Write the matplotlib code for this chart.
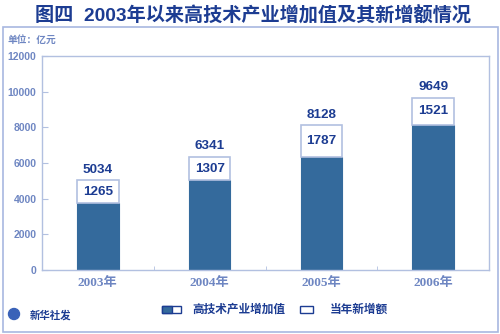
import matplotlib.pyplot as plt
from matplotlib.patches import Rectangle, Ellipse
import numpy as np

years = ["2003年", "2004年", "2005年", "2006年"]
totals = [5034, 6341, 8128, 9649]
increments = [1265, 1307, 1787, 1521]
yticks = [0, 2000, 4000, 6000, 8000, 10000, 12000]

dark = "#1c3c92"
light = "#6e86c2"
edge = "#b2c0e0"
barcol = "#346a9c"

plt.rcParams["font.family"] = ["Noto Sans CJK SC", "DejaVu Sans"]
num_font = ["Liberation Sans", "Noto Sans CJK SC"]

fig = plt.figure(figsize=(5, 3.34), dpi=100)

# outer frame
fig.patches.append(Rectangle((0.006, 0.006), 0.99, 0.913, transform=fig.transFigure,
                             fill=False, edgecolor="#a8b8e0", linewidth=1.2))

fig.text(0.506, 0.955, "图四  2003年以来高技术产业增加值及其新增额情况", ha="center", va="center",
         fontsize=13.8, fontweight="bold", color=dark, family=num_font)
fig.text(0.016, 0.88, "单位：亿元", ha="left", va="center", fontsize=7,
         fontweight="bold", color=light)

ax = fig.add_axes([0.084, 0.1916, 0.894, 0.6407])
x = np.arange(len(years))
base = [t - i for t, i in zip(totals, increments)]
w = 0.37
ax.bar(x, base, w, color=barcol, edgecolor=barcol, linewidth=0.8)
ax.bar(x, increments, w, bottom=base, color="white", edgecolor=edge, linewidth=1.2)

for xi, t, b, inc in zip(x, totals, base, increments):
    ax.text(xi, t + 250, str(t), ha="center", va="bottom", fontsize=9.7,
            fontweight="bold", color=dark, family=num_font)
    ax.text(xi, b + inc / 2, str(inc), ha="center", va="center", fontsize=9.7,
            fontweight="bold", color=dark, family=num_font)

ax.set_xlim(-0.5, 3.5)
ax.set_ylim(0, 12000)
ax.set_yticks(yticks)
ax.set_yticklabels([str(v) for v in yticks], fontsize=7.5, fontweight="bold", color=light,
                   family=num_font)
ax.tick_params(axis="y", direction="in", length=4, color=edge, pad=4)
ax.set_xticks(x)
ax.set_xticklabels(years, fontsize=9.5, color=light, family=["Liberation Serif", "Noto Sans CJK SC"],
                   fontweight="bold")
ax.tick_params(axis="x", length=0, pad=5)
ax.set_xticks([0.5, 1.5, 2.5], minor=True)
ax.tick_params(axis="x", which="minor", direction="in", length=3, color=edge)
for s in ax.spines.values():
    s.set_color(edge)
    s.set_linewidth(1.0)

# legend
ly = 1 - 309 / 334
hh = 7 / 334
fig.patches.append(Rectangle((162 / 500, ly - hh / 2), 19 / 500, hh, transform=fig.transFigure,
                             facecolor="white", edgecolor=dark, linewidth=1.0))
fig.patches.append(Rectangle((162 / 500, ly - hh / 2), 10 / 500, hh, transform=fig.transFigure,
                             facecolor=barcol, edgecolor=dark, linewidth=1.0))
fig.text(192 / 500, ly, "高技术产业增加值", ha="left", va="center", fontsize=8.4,
         fontweight="bold", color=dark)
fig.patches.append(Rectangle((300 / 500, ly - hh / 2), 13 / 500, hh, transform=fig.transFigure,
                             facecolor="white", edgecolor=dark, linewidth=1.0))
fig.text(330 / 500, ly, "当年新增额", ha="left", va="center", fontsize=8.4,
         fontweight="bold", color=dark)

# source
fig.patches.append(Ellipse((14 / 500, 1 - 314 / 334), 11 / 500, 11 / 334, transform=fig.transFigure,
                           facecolor="#3a62b8", edgecolor="#3a62b8"))
fig.text(30 / 500, 1 - 315 / 334, "新华社发", ha="left", va="center", fontsize=7.5,
         fontweight="bold", color=dark)

fig.savefig("out.png", dpi=100)
